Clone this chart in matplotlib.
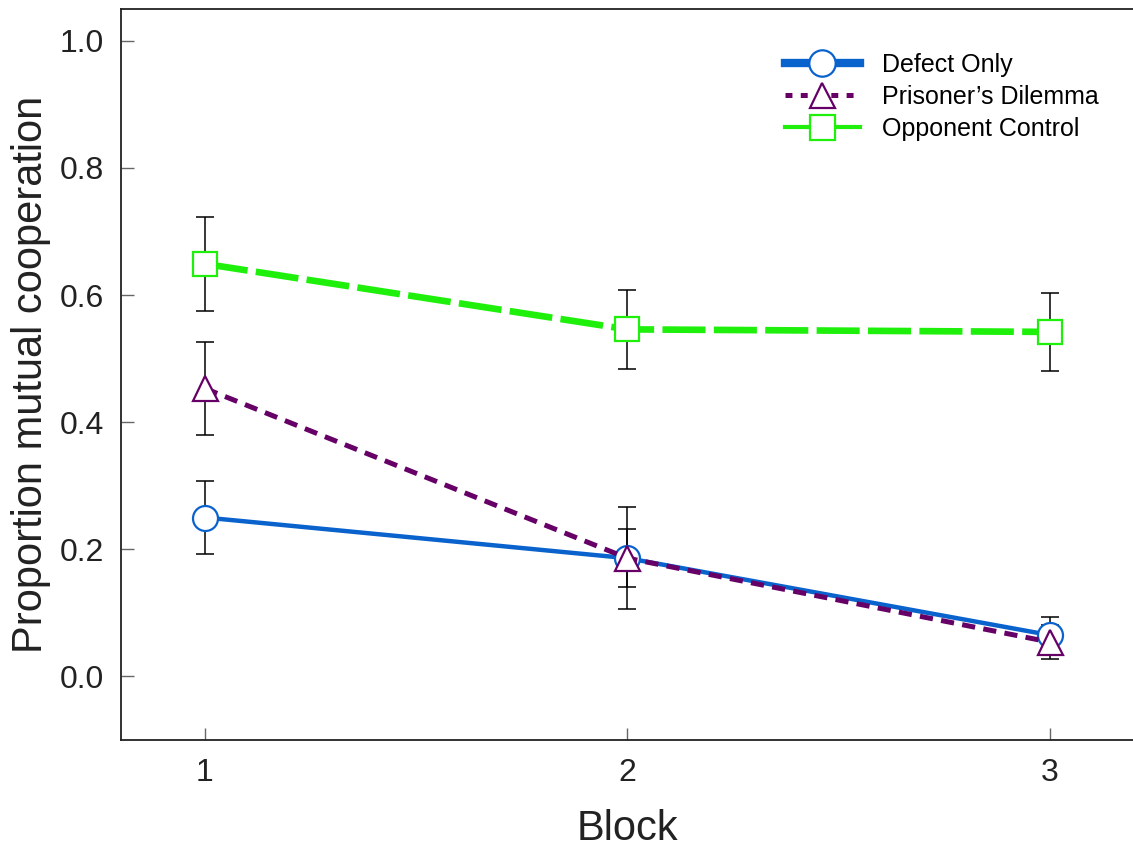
import matplotlib
matplotlib.use("Agg")
import matplotlib.pyplot as plt
from matplotlib.lines import Line2D

plt.rcParams['font.family'] = ['Liberation Sans', 'DejaVu Sans']
plt.rcParams['lines.scale_dashes'] = False

# data
blocks = [1, 2, 3]
defect_only = [0.250, 0.186, 0.065]
defect_err = [0.058, 0.046, 0.029]
prisoners = [0.453, 0.186, 0.054]
prisoners_err = [0.073, 0.080, 0.027]
opponent = [0.649, 0.546, 0.542]
opponent_err = [0.074, 0.062, 0.061]

blue = "#0a62cc"
purple = "#660066"
green = "#1ef00c"

fig = plt.figure(figsize=(11.33, 8.51), dpi=100)
ax = fig.add_axes([120.5/1133, 111/851, 1014/1133, 731/851])

# error bars first so the open markers sit on top of them
for y, e in [(defect_only, defect_err), (prisoners, prisoners_err), (opponent, opponent_err)]:
    ax.errorbar(blocks, y, yerr=e, fmt="none", ecolor="black", elinewidth=1.1,
                capsize=6.5, capthick=1.1, zorder=2)

ax.plot(blocks, defect_only, color=blue, lw=3.2, linestyle="-",
        marker="o", markersize=18, markerfacecolor="white",
        markeredgecolor=blue, markeredgewidth=1.6, zorder=3)
ax.plot(blocks, prisoners, color=purple, lw=3.6, linestyle=(0, (9.5, 6)),
        marker="^", markersize=18, markerfacecolor="white",
        markeredgecolor=purple, markeredgewidth=1.6, zorder=4)
ax.plot(blocks, opponent, color=green, lw=4.8, linestyle=(0, (31, 6)),
        marker="s", markersize=17, markerfacecolor="white",
        markeredgecolor=green, markeredgewidth=1.6, zorder=3)

handles = [
    Line2D([], [], color=blue, lw=6, marker="o", markersize=19,
           markerfacecolor="white", markeredgecolor=blue, markeredgewidth=1.6),
    Line2D([], [], color=purple, lw=3.6, linestyle=(0, (5, 6)), marker="^", markersize=18,
           markerfacecolor="white", markeredgecolor=purple, markeredgewidth=1.6),
    Line2D([], [], color=green, lw=3, linestyle="-", marker="s", markersize=18,
           markerfacecolor="white", markeredgecolor=green, markeredgewidth=1.6),
]
ax.legend(handles, ["Defect Only", "Prisoner\u2019s Dilemma", "Opponent Control"],
          loc="upper left", bbox_to_anchor=(0.655, 0.94), frameon=False,
          fontsize=18, handlelength=3, handletextpad=0.9, labelspacing=0.32,
          borderpad=0, borderaxespad=0)

ax.set_xlim(0.8, 3.2)
ax.set_ylim(-0.1, 1.05)
ax.set_xticks(blocks)
ax.set_yticks([0.0, 0.2, 0.4, 0.6, 0.8, 1.0])
ax.set_yticklabels(["0.0", "0.2", "0.4", "0.6", "0.8", "1.0"])
ax.tick_params(direction="in", length=9, width=1, color="#666666",
               labelsize=23, labelcolor="#222222", pad=12)
ax.tick_params(axis="x", pad=13)

for s in ["left", "bottom", "top"]:
    ax.spines[s].set_color("#222222")
    ax.spines[s].set_linewidth(1.3)
ax.spines["right"].set_visible(False)

ax.set_xlabel("Block", fontsize=30, color="#222222", labelpad=15)
ax.set_ylabel("Proportion mutual cooperation", fontsize=30, color="#222222", labelpad=6)

fig.savefig("out.png", dpi=100)
